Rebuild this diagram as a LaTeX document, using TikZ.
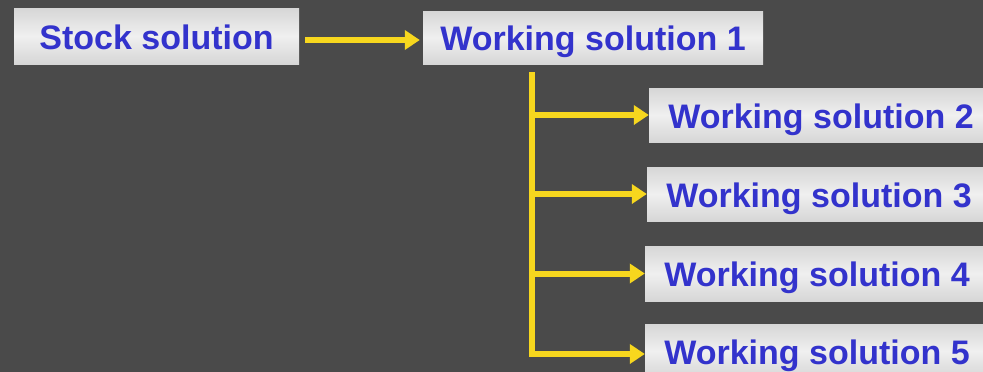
\documentclass[tikz,border=0pt]{standalone}
\usepackage{fontspec}
\setmainfont{Liberation Sans}
\usetikzlibrary{arrows.meta}
\definecolor{slate}{HTML}{4A4A4A}
\definecolor{marble}{HTML}{D6D6D6}
\definecolor{inkblue}{HTML}{3333CC}
\definecolor{flowyellow}{HTML}{F7D71E}
\begin{document}
\begin{tikzpicture}[x=1pt, y=-1pt,
    every node/.style={rectangle, inner sep=0pt, top color=marble, bottom color=marble, middle color=white!94!black,
      text=inkblue, font=\fontsize{34}{40}\selectfont\bfseries, text height=30pt, text depth=4pt},
    flow/.style={flowyellow, line width=6pt, -{Triangle[length=15pt, width=19pt]}}]
    % Background
    \fill[slate] (0,0) rectangle (983,372);
    \useasboundingbox (0,0) rectangle (983,372);

    % Nodes
    \node[minimum width=285pt, minimum height=56pt] (stock) at (156.5,36) {Stock solution};
    \node[minimum width=340pt, minimum height=53pt] (ws1) at (593,37.5) {Working solution 1};
    \node[minimum width=344pt, minimum height=54pt] (ws2) at (821,115) {Working solution 2};
    \node[minimum width=344pt, minimum height=54pt] (ws3) at (819,194) {Working solution 3};
    \node[minimum width=344pt, minimum height=55pt] (ws4) at (817,273.5) {Working solution 4};
    \node[minimum width=344pt, minimum height=54pt] (ws5) at (817,351) {Working solution 5};
    \coordinate (trunk) at (532,72);
    \coordinate (trunkend) at (532,357);

    % Edges
    \draw[flow, shorten <=6pt, shorten >=3pt] ([yshift=-4pt]stock.east) -- ([yshift=-4pt]stock.east -| ws1.west);
    \draw[flowyellow, line width=6pt] (trunk) -- (trunkend);
    \draw[flow] ([xshift=-3pt]trunk |- ws2) -- (ws2.west);
    \draw[flow] ([xshift=-3pt]trunk |- ws3) -- (ws3.west);
    \draw[flow] ([xshift=-3pt]trunk |- ws4) -- (ws4.west);
    \draw[flow] ([xshift=-3pt,yshift=-3pt]trunk |- ws5) -- ([yshift=-3pt]ws5.west);
\end{tikzpicture}
\end{document}
